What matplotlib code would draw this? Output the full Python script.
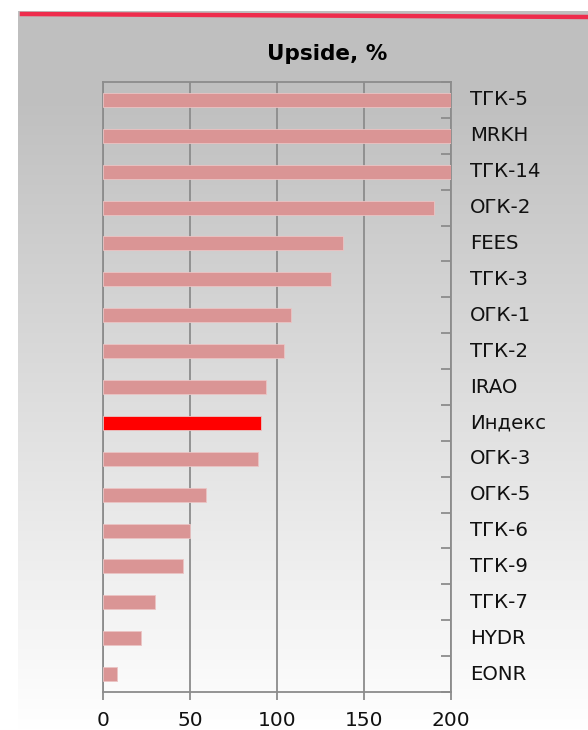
import numpy as np
import matplotlib
matplotlib.use('Agg')
from matplotlib import pyplot as plt

# Data
names = ['ТГК-5', 'MRKH', 'ТГК-14', 'ОГК-2', 'FEES', 'ТГК-3', 'ОГК-1', 'ТГК-2', 'IRAO',
         'Индекс', 'ОГК-3', 'ОГК-5', 'ТГК-6', 'ТГК-9', 'ТГК-7', 'HYDR', 'EONR']
upside = [200, 200, 200, 190, 138, 131, 108, 104, 93.5,
          91, 89, 59, 50, 46, 30, 22, 8]
x_ticks = [0, 50, 100, 150, 200]

plt.rcParams['font.family'] = ['DejaVu Sans']

fig = plt.figure(figsize=(5.88, 7.3), dpi=100)

# background panel with grey-to-white gradient
bg = fig.add_axes([18 / 588, 0, 1 - 18 / 588, 1 - 11 / 730])
grad = np.linspace(0, 1, 256)
grad = np.clip((grad - 0.12) / 0.88, 0, 1)
shade = 0.75 + 0.25 * grad
img = np.dstack([shade, shade, shade]).reshape(256, 1, 3)
bg.imshow(img, aspect='auto', extent=[0, 1, 0, 1], origin='upper')
bg.set_xlim(0, 1)
bg.set_ylim(0, 1)
bg.axis('off')

# red line at top
fig.add_artist(plt.Line2D([22 / 588, 1], [1 - 14 / 730, 1 - 17 / 730],
                          color='#EE2C4C', lw=3.2, transform=fig.transFigure))

ax = fig.add_axes([103 / 588, 1 - 692 / 730, 348 / 588, 610 / 730])
ax.patch.set_alpha(0)

y = np.arange(len(names))
colors = ['#FF0000' if n == 'Индекс' else '#DA9595' for n in names]
ax.barh(y, upside, height=0.39, color=colors, edgecolor='#EBC4C4', linewidth=0.6, zorder=3)

ax.set_xlim(0, 200)
ax.set_ylim(len(names) - 0.5, -0.5)
ax.set_xticks(x_ticks)
ax.set_xticklabels([str(t) for t in x_ticks], fontsize=14.5, color='#111111')
ax.tick_params(axis='x', direction='out', length=6, width=1.3, color='#8C8C8C', pad=8)
ax.grid(axis='x', color='#8C8C8C', lw=1.3, zorder=1)

# category labels on the right, boundary ticks pointing inward
ax.yaxis.tick_right()
ax.set_yticks(np.arange(len(names) + 1) - 0.5)
ax.set_yticklabels([])
ax.tick_params(axis='y', direction='in', length=7, width=1.3, color='#8C8C8C')
for i, n in enumerate(names):
    ax.text(1.054, i, n, transform=ax.get_yaxis_transform(), ha='left', va='center',
            fontsize=14.2, color='#111111')

for s in ['top', 'right', 'bottom', 'left']:
    ax.spines[s].set_color('#8C8C8C')
    ax.spines[s].set_linewidth(1.3)

fig.text(327 / 588, 1 - 54 / 730, 'Upside, %', ha='center', va='center',
         fontsize=15.5, fontweight='bold')

fig.savefig('out.png', dpi=100)
